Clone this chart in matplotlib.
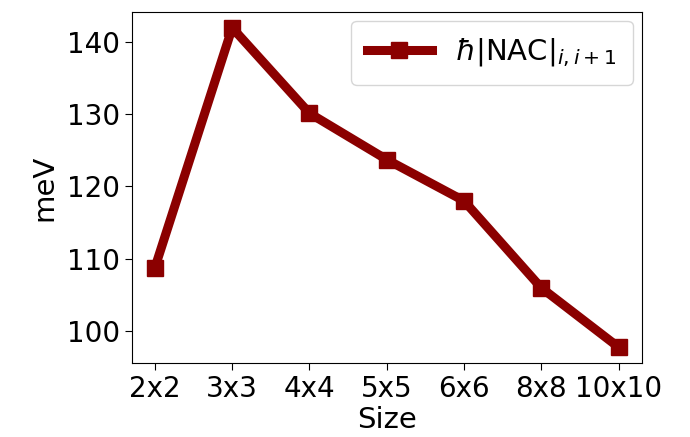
import matplotlib
matplotlib.use("Agg")
import matplotlib.pyplot as plt

# サイズごとのNAC値 (meV)
sizes = ["2x2", "3x3", "4x4", "5x5", "6x6", "8x8", "10x10"]
nac = [108.8, 141.9, 130.1, 123.7, 118.0, 106.0, 97.8]

fig = plt.figure(figsize=(6.9, 4.37), dpi=100)
ax = fig.add_axes([0.191, 0.169, 0.739, 0.804])

ax.plot(range(len(sizes)), nac, color="darkred", linewidth=6.5,
        marker="s", markersize=11.5, label=r"$\hbar|\mathrm{NAC}|_{i,i+1}$")

ax.set_xticks(range(len(sizes)))
ax.set_xticklabels(sizes)
ax.tick_params(labelsize=20, length=5)
ax.set_xlabel("Size", fontsize=21, labelpad=2)
ax.set_ylabel("meV", fontsize=21, labelpad=6)
ax.legend(loc="upper right", fontsize=21, handlelength=2.2,
          borderaxespad=0.3, borderpad=0.55)

fig.savefig("out.png", dpi=100)
